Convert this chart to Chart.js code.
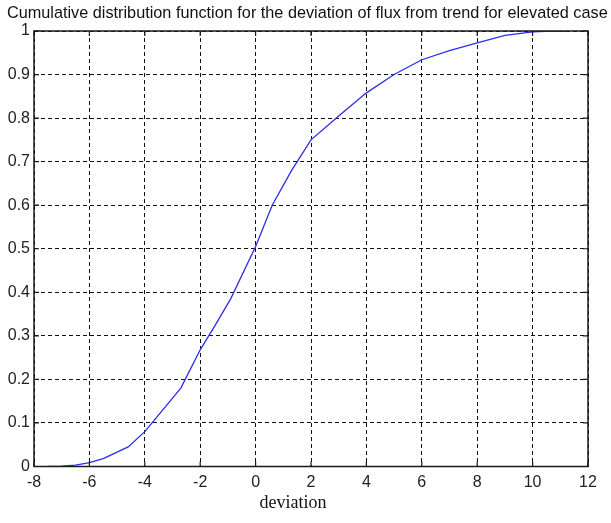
<!DOCTYPE html>
<html>
<head>
<meta charset="utf-8">
<script src="https://cdn.jsdelivr.net/npm/chart.js@4/dist/chart.umd.min.js"></script>
<style>
  html, body { margin: 0; padding: 0; background: #fff; }
  #wrap { width: 611px; height: 523px; position: relative; }
</style>
</head>
<body>
<div id="wrap"><canvas id="cdfChart"></canvas></div>
<script>
// deviation values (x) and cumulative probability (y)
const devX = [-7.5, -7, -6.5, -6, -5.5, -4.6, -4, -2.7, -2, -1.5, -0.9, 0, 0.6, 1.3, 2, 3, 4, 5, 6, 7, 8, 9, 10, 10.7, 11.3];
const cdfY = [0, 0.001, 0.003, 0.009, 0.018, 0.045, 0.08, 0.18, 0.268, 0.32, 0.385, 0.505, 0.6, 0.68, 0.75, 0.805, 0.858, 0.9, 0.934, 0.955, 0.973, 0.99, 0.998, 1.0, 1.0];

const xTicks = [-8, -6, -4, -2, 0, 2, 4, 6, 8, 10, 12];
const yTicks = [0, 0.1, 0.2, 0.3, 0.4, 0.5, 0.6, 0.7, 0.8, 0.9, 1];

const titleText = 'Cumulative distribution function for the deviation of flux from trend for elevated case';
const xTitle = 'deviation';

// title, frame + inward tick marks on all four sides, and the x axis label
const framePlugin = {
  id: 'frame',
  afterDraw(chart) {
    const { ctx, chartArea: a, scales } = chart;
    ctx.save();
    ctx.strokeStyle = '#1a1a1a';
    ctx.lineWidth = 1.5;
    ctx.strokeRect(a.left, a.top, a.right - a.left, a.bottom - a.top);
    ctx.lineWidth = 1.2;
    ctx.beginPath();
    xTicks.forEach(v => {
      const px = scales.x.getPixelForValue(v);
      ctx.moveTo(px, a.bottom); ctx.lineTo(px, a.bottom - 5);
      ctx.moveTo(px, a.top); ctx.lineTo(px, a.top + 5);
    });
    yTicks.forEach(v => {
      const py = scales.y.getPixelForValue(v);
      ctx.moveTo(a.left, py); ctx.lineTo(a.left + 5, py);
      ctx.moveTo(a.right, py); ctx.lineTo(a.right - 5, py);
    });
    ctx.stroke();

    ctx.fillStyle = '#111';
    ctx.textBaseline = 'alphabetic';

    // title: scale the font so it spans the same width as in the original
    const titleFont = '"Liberation Sans", Arial, sans-serif';
    ctx.font = '15px ' + titleFont;
    const size = 15 * 601 / ctx.measureText(titleText).width;
    ctx.font = size.toFixed(2) + 'px ' + titleFont;
    ctx.textAlign = 'left';
    ctx.fillText(titleText, 7, 18);

    ctx.font = '18px "Liberation Serif", "Times New Roman", serif';
    ctx.textAlign = 'center';
    ctx.fillText(xTitle, (a.left + a.right) / 2 - 18, 508);
    ctx.restore();
  }
};

const ctx = document.getElementById('cdfChart').getContext('2d');

const cdfChart = new Chart(ctx, {
  type: 'line',
  data: {
    datasets: [{
      label: 'CDF',
      data: devX.map((x, i) => ({ x: x, y: cdfY[i] })),
      borderColor: 'rgb(45, 45, 235)',
      borderWidth: 1.3,
      pointRadius: 0,
      tension: 0,
      fill: false
    }]
  },
  options: {
    responsive: true,
    maintainAspectRatio: false,
    animation: false,
    layout: {
      padding: { left: 0, right: 23, top: 31, bottom: 0 }
    },
    plugins: {
      legend: { display: false },
      tooltip: { enabled: false },
      title: { display: false }
    },
    scales: {
      x: {
        type: 'linear',
        min: -8,
        max: 12,
        afterBuildTicks: scale => { scale.ticks = xTicks.map(v => ({ value: v })); },
        afterFit: scale => { scale.height = 56.5; },
        grid: { color: '#111', lineWidth: 1, drawTicks: false },
        border: { display: false, dash: [4, 3] },
        ticks: {
          color: '#222',
          padding: 6,
          maxRotation: 0,
          font: { family: '"Liberation Sans", Arial, sans-serif', size: 16 }
        }
      },
      y: {
        type: 'linear',
        min: 0,
        max: 1,
        afterBuildTicks: scale => { scale.ticks = yTicks.map(v => ({ value: v })); },
        afterFit: scale => { scale.width = 34; },
        grid: { color: '#111', lineWidth: 1, drawTicks: false },
        border: { display: false, dash: [4, 3] },
        ticks: {
          color: '#222',
          padding: 4,
          callback: v => String(Math.round(v * 10) / 10),
          font: { family: '"Liberation Sans", Arial, sans-serif', size: 16 }
        }
      }
    }
  },
  plugins: [framePlugin]
});
</script>
</body>
</html>
